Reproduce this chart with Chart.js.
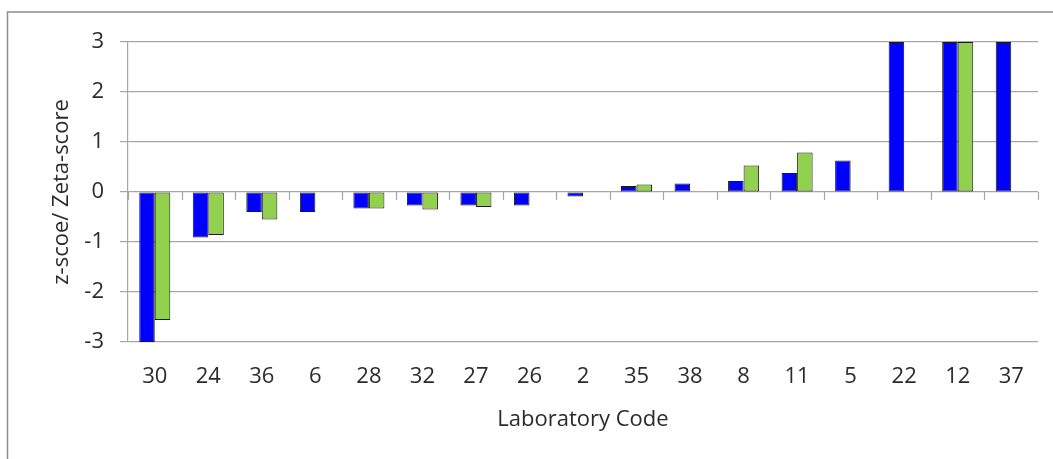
<!DOCTYPE html>
<html>
<head>
<meta charset="utf-8">
<script src="https://cdn.jsdelivr.net/npm/chart.js@4/dist/chart.umd.min.js"></script>
<style>
  html, body { margin: 0; padding: 0; background: #fff; }
  #wrap { width: 1053px; height: 459px; }
</style>
</head>
<body>
<div id="wrap"><canvas id="chart" width="1053" height="459"></canvas></div>
<script>
'use strict';

const labCodes = ['30', '24', '36', '6', '28', '32', '27', '26', '2', '35', '38', '8', '11', '5', '22', '12', '37'];
const zScores = [-3, -0.91, -0.4, -0.4, -0.33, -0.27, -0.27, -0.27, -0.09, 0.12, 0.17, 0.22, 0.38, 0.63, 3, 3, 3];
const zetaScores = [-2.56, -0.86, -0.55, null, -0.33, -0.35, -0.3, null, null, 0.15, null, 0.53, 0.79, null, null, 3, null];
const yTicks = [-3, -2, -1, 0, 1, 2, 3];

const FONT = '"Open Sans", "Liberation Sans", sans-serif';
const FONT_SIZE = 22;
const TEXT = '#2b2b2b';
const GRID = '#a6a6a6';

// cadre gris en haut et à gauche
const framePlugin = {
    id: 'frame',
    beforeDraw(chart) {
        const ctx = chart.ctx;
        ctx.save();
        ctx.strokeStyle = '#8c8c8c';
        ctx.lineWidth = 1.5;
        ctx.beginPath();
        ctx.moveTo(7.5, chart.height);
        ctx.lineTo(7.5, 12);
        ctx.lineTo(chart.width, 12);
        ctx.stroke();
        ctx.restore();
    }
};

// petits traits de l'axe des catégories, posés sur la ligne du zéro
const zeroTicksPlugin = {
    id: 'zeroTicks',
    afterDatasetsDraw(chart) {
        const x = chart.scales.x, y = chart.scales.y;
        const y0 = y.getPixelForValue(0);
        const step = (x.right - x.left) / labCodes.length;
        const ctx = chart.ctx;
        ctx.save();
        ctx.strokeStyle = GRID;
        ctx.lineWidth = 1.2;
        ctx.beginPath();
        for (let i = 0; i <= labCodes.length; i++) {
            const px = Math.round(x.left + i * step) + 0.5;
            ctx.moveTo(px, y0);
            ctx.lineTo(px, y0 + 8);
        }
        ctx.stroke();
        ctx.restore();
    }
};

new Chart(document.getElementById('chart').getContext('2d'), {
    type: 'bar',
    data: {
        labels: labCodes,
        datasets: [
            {
                label: 'z-score',
                data: zScores,
                backgroundColor: '#0000ff',
                borderColor: '#1a1a1a',
                borderWidth: 1,
                borderSkipped: false
            },
            {
                label: 'Zeta-score',
                data: zetaScores,
                backgroundColor: '#92d050',
                borderColor: '#1a1a1a',
                borderWidth: 1,
                borderSkipped: false
            }
        ]
    },
    options: {
        responsive: false,
        animation: false,
        devicePixelRatio: 1,
        layout: { padding: { top: 42, right: 15, bottom: 0, left: 0 } },
        datasets: { bar: { categoryPercentage: 0.58, barPercentage: 1 } },
        plugins: {
            legend: { display: false },
            tooltip: { enabled: false }
        },
        scales: {
            x: {
                grid: { display: false },
                border: { display: false },
                ticks: {
                    color: TEXT,
                    font: { family: FONT, size: FONT_SIZE },
                    padding: 14,
                    maxRotation: 0,
                    autoSkip: false
                },
                title: {
                    display: true,
                    text: 'Laboratory Code',
                    color: TEXT,
                    font: { family: FONT, size: FONT_SIZE },
                    padding: { top: 0, bottom: 26 }
                },
                afterFit(scale) { scale.height = 117; }
            },
            y: {
                min: -3,
                max: 3,
                afterBuildTicks(scale) { scale.ticks = yTicks.map(v => ({ value: v })); },
                grid: { color: GRID, lineWidth: 1.2, tickLength: 8 },
                border: { display: true, color: GRID, width: 1.2 },
                ticks: {
                    color: TEXT,
                    font: { family: FONT, size: FONT_SIZE },
                    padding: 16
                },
                title: {
                    display: true,
                    text: 'z-scoe/ Zeta-score',
                    color: TEXT,
                    font: { family: FONT, size: FONT_SIZE },
                    padding: { top: 49, bottom: 0 }
                },
                afterFit(scale) { scale.width = 128; }
            }
        }
    },
    plugins: [framePlugin, zeroTicksPlugin]
});
</script>
</body>
</html>
